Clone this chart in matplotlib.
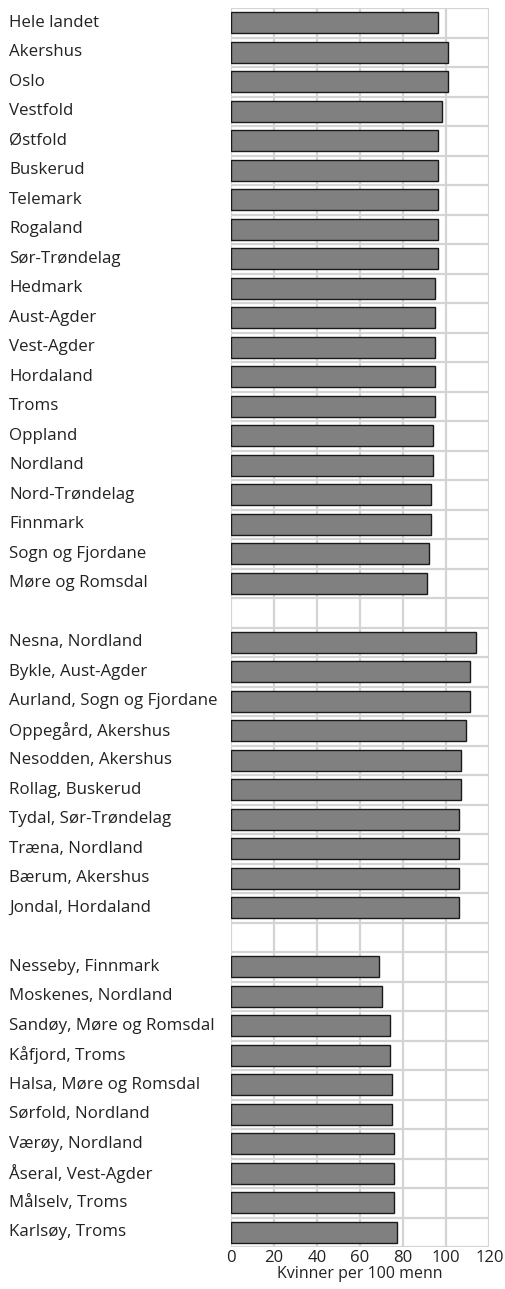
import matplotlib
matplotlib.use("Agg")
import matplotlib.pyplot as plt
from matplotlib.transforms import blended_transform_factory
import numpy as np

plt.rcParams['font.family'] = ['Open Sans', 'DejaVu Sans']

fylker = ["Hele landet", "Akershus", "Oslo", "Vestfold", "Østfold", "Buskerud",
          "Telemark", "Rogaland", "Sør-Trøndelag", "Hedmark", "Aust-Agder",
          "Vest-Agder", "Hordaland", "Troms", "Oppland", "Nordland",
          "Nord-Trøndelag", "Finnmark", "Sogn og Fjordane", "Møre og Romsdal"]
fylker_val = [96, 101, 101, 98, 96, 96, 96, 96, 96, 95, 95, 95, 95, 95, 94, 94,
              93, 93, 92, 91]

topp = ["Nesna, Nordland", "Bykle, Aust-Agder", "Aurland, Sogn og Fjordane",
        "Oppegård, Akershus", "Nesodden, Akershus", "Rollag, Buskerud",
        "Tydal, Sør-Trøndelag", "Træna, Nordland", "Bærum, Akershus",
        "Jondal, Hordaland"]
topp_val = [114, 111, 111, 109, 107, 107, 106, 106, 106, 106]

bunn = ["Nesseby, Finnmark", "Moskenes, Nordland", "Sandøy, Møre og Romsdal",
        "Kåfjord, Troms", "Halsa, Møre og Romsdal", "Sørfold, Nordland",
        "Værøy, Nordland", "Åseral, Vest-Agder", "Målselv, Troms",
        "Karlsøy, Troms"]
bunn_val = [69, 70, 74, 74, 75, 75, 76, 76, 76, 77]

xticks = [0, 20, 40, 60, 80, 100, 120]
xlabel = "Kvinner per 100 menn"

labels = fylker + [""] + topp + [""] + bunn
values = fylker_val + [np.nan] + topp_val + [np.nan] + bunn_val
n = len(labels)
ypos = np.arange(n)

fig = plt.figure(figsize=(5.05, 12.89), dpi=100)
ax = fig.add_axes([230.7 / 505, 1 - 1247 / 1289, (489.3 - 230.7) / 505, (1247 - 8) / 1289])

mask = ~np.isnan(values)
ax.barh(ypos[mask], np.array(values)[mask], height=0.72, color="#808080",
        edgecolor="#1a1a1a", linewidth=1.0, zorder=3)

ax.set_xlim(0, 120)
ax.set_ylim(n - 0.5, -0.5)
ax.set_xticks(xticks)
ax.set_xticklabels([str(t) for t in xticks], fontsize=12, color="#222222")
ax.set_yticks(np.arange(-0.5, n, 1.0))
ax.set_yticklabels([])
ax.tick_params(axis='both', length=0, pad=2)
ax.grid(True, axis='both', color="#d4d4d4", linewidth=1.6, zorder=0)
ax.set_axisbelow(True)
for s in ax.spines.values():
    s.set_visible(False)

trans = blended_transform_factory(fig.transFigure, ax.transData)
for i, lab in enumerate(labels):
    if lab:
        ax.text(9 / 505, i, lab, transform=trans, ha='left', va='center',
                fontsize=12.2, color="#222222")

ax.set_xlabel(xlabel, fontsize=11.5, color="#222222", labelpad=0)

fig.savefig("out.png", dpi=100)
